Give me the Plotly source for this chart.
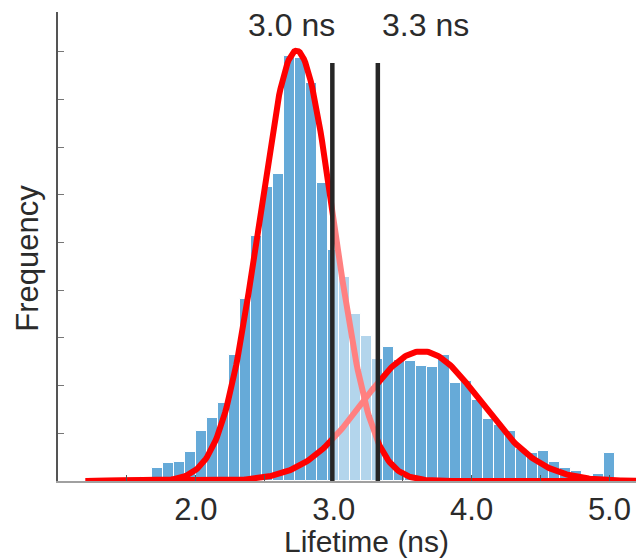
import numpy as np
import plotly.graph_objects as go

# ---- data ----
bin_left = [1.52, 1.60, 1.68, 1.76, 1.84, 1.92, 2.00, 2.08, 2.16, 2.24, 2.32, 2.40,
            2.48, 2.56, 2.64, 2.72, 2.80, 2.88, 2.96, 3.04, 3.12, 3.20, 3.28, 3.36,
            3.44, 3.52, 3.60, 3.68, 3.76, 3.84, 3.92, 4.00, 4.08, 4.16, 4.24, 4.32,
            4.40, 4.48, 4.56, 4.64, 4.72, 4.80, 4.88, 4.96]
bin_width = 0.08
freq = [0.06, 0.09, 0.27, 0.37, 0.39, 0.60, 1.05, 1.33, 1.64, 2.65, 3.82, 5.14,
        6.17, 6.43, 8.90, 8.86, 8.34, 6.25, 4.85, 4.27, 3.49, 3.04, 2.56, 2.80,
        2.54, 2.51, 2.41, 2.39, 2.64, 2.05, 2.10, 1.70, 1.31, 1.17, 1.05, 0.68,
        0.59, 0.62, 0.40, 0.27, 0.21, 0.08, 0.15, 0.59]

# Gaussian fit parameters (amplitude, centre, sigma) of the two populations
fit_amp = [9.02, 2.72]
fit_mu = [2.73, 3.64]
fit_sigma = [0.27, 0.43]
fit_range = [1.2, 5.2]

# lifetime markers
marker_x = [2.99, 3.32]
marker_top = 8.76
marker_labels = ["3.0 ns", "3.3 ns"]

xtick_vals = [2, 3, 4, 5]
xtick_text = ["2.0", "3.0", "4.0", "5.0"]
x_title = "Lifetime (ns)"
y_title = "Frequency"

FONT = "Liberation Sans, Arial, Helvetica, sans-serif"
TXT = "#2b2b2b"

fig = go.Figure()

centers = [b + bin_width / 2 for b in bin_left]
fig.add_trace(go.Bar(
    x=centers, y=freq, width=bin_width,
    marker=dict(color="#66aad8", line=dict(color="white", width=1)),
    showlegend=False, hoverinfo="skip"))

xs = np.linspace(fit_range[0], fit_range[1], 400)
for a, m, s in zip(fit_amp, fit_mu, fit_sigma):
    fig.add_trace(go.Scatter(
        x=xs, y=a * np.exp(-(xs - m) ** 2 / (2 * s ** 2)),
        mode="lines", line=dict(color="#ff0000", width=6),
        showlegend=False, hoverinfo="skip"))

shapes = [dict(type="rect", xref="x", yref="y", x0=marker_x[0], x1=marker_x[1],
               y0=0, y1=9.83, fillcolor="white", opacity=0.5,
               line=dict(width=0), layer="above")]
for mx in marker_x:
    shapes.append(dict(type="line", xref="x", yref="y", x0=mx, x1=mx,
                       y0=0, y1=marker_top, line=dict(color="#262626", width=4.5),
                       layer="above"))

annotations = [
    dict(x=marker_x[0], y=9.56, xref="x", yref="y", text=marker_labels[0],
         showarrow=False, xanchor="right", yanchor="middle", xshift=5,
         font=dict(family=FONT, size=32, color=TXT)),
    dict(x=marker_x[1], y=9.56, xref="x", yref="y", text=marker_labels[1],
         showarrow=False, xanchor="left", yanchor="middle", xshift=2,
         font=dict(family=FONT, size=32, color=TXT)),
    dict(x=0.532, y=-0.128, xref="paper", yref="paper", text=x_title,
         showarrow=False, xanchor="center", yanchor="middle",
         font=dict(family=FONT, size=30, color=TXT)),
    dict(x=-0.052, y=0.476, xref="paper", yref="paper", text=y_title,
         showarrow=False, xanchor="center", yanchor="middle", textangle=-90,
         font=dict(family=FONT, size=31, color=TXT)),
]

# the page body adds an 8px offset, so the figure is drawn 8px smaller
fig.update_layout(
    width=636, height=552,
    margin=dict(l=50, r=7, t=4, b=79),
    paper_bgcolor="white", plot_bgcolor="white",
    bargap=0, shapes=shapes, annotations=annotations,
    font=dict(family=FONT, color=TXT),
)
fig.update_xaxes(
    range=[1.0, 5.2], showgrid=False, zeroline=False,
    showline=True, linecolor="#a0a0a0", linewidth=1.5,
    tickvals=xtick_vals, ticktext=xtick_text,
    ticks="inside", ticklen=6, tickcolor="#555555", tickwidth=1,
    minor=dict(dtick=0.5, tick0=0, ticks="inside", ticklen=6, tickcolor="#555555", showgrid=False),
    tickfont=dict(family=FONT, size=31, color=TXT),
    ticklabelstandoff=0,
)
fig.update_yaxes(
    range=[0, 9.83], showgrid=False, zeroline=False,
    showline=True, linecolor="#555555", linewidth=1.5,
    dtick=1, tick0=0, ticks="inside", ticklen=6, tickcolor="#777777",
    showticklabels=False,
)

fig.write_html("out.html")
